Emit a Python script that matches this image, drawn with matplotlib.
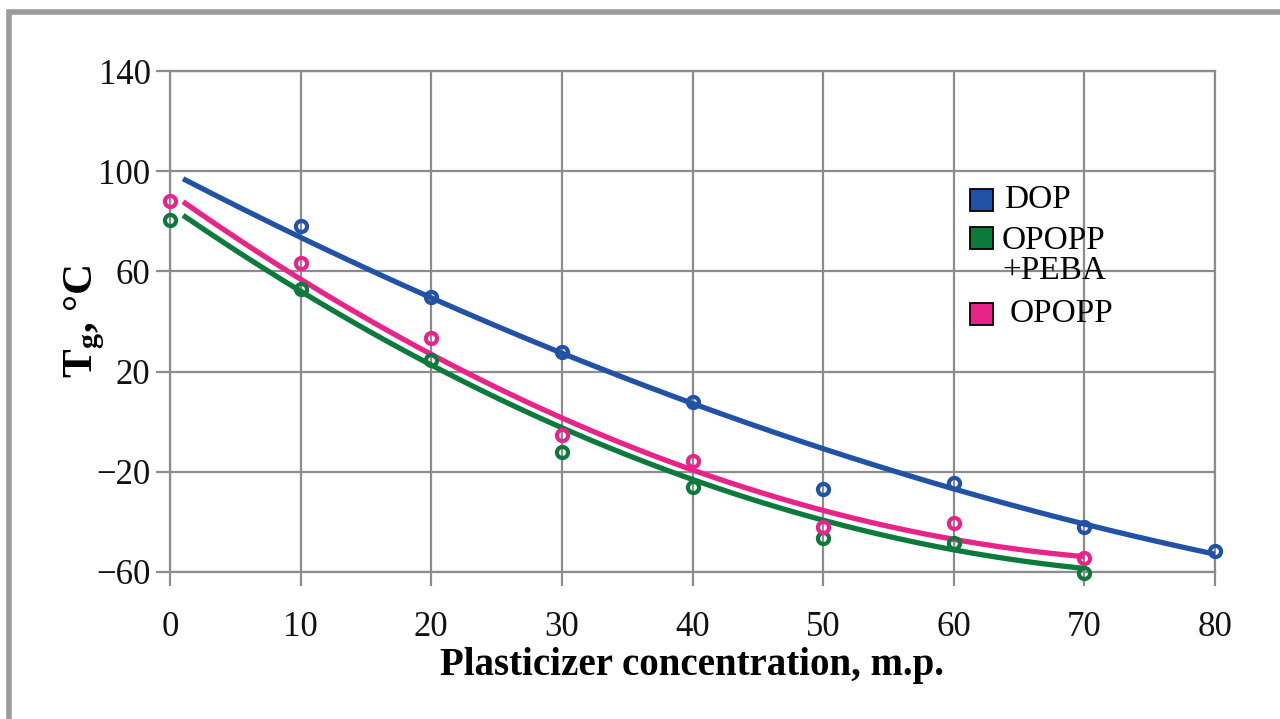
import numpy as np
import matplotlib.pyplot as plt
from matplotlib.patches import Rectangle

plt.rcParams['font.family'] = ['Liberation Serif', 'DejaVu Serif']
plt.rcParams['mathtext.fontset'] = 'custom'
plt.rcParams['mathtext.rm'] = 'Liberation Serif'

x_dop = [10, 20, 30, 40, 50, 60, 70, 80]
y_dop = [78, 49.6, 28, 8, -27, -24.5, -42, -51.5]
x_peba = [0, 10, 20, 30, 40, 50, 60, 70]
y_peba = [80.5, 53, 24.5, -12, -26, -46.5, -48.5, -60.5]
x_opopp = [0, 10, 20, 30, 40, 50, 60, 70]
y_opopp = [88, 63.5, 33.5, -5.5, -15.5, -42, -40.5, -54.5]

# trend lines
tx_dop = [1, 10, 20, 30, 40, 50, 60, 70, 80]
ty_dop = [95, 75.6, 50, 28, 8, -13.2, -26.4, -42, -51.6]
tx_peba = [1, 10, 20, 30, 40, 50, 60, 70]
ty_peba = [80, 55, 25.2, -4.4, -26, -39.2, -48.4, -59.6]
tx_opopp = [1, 10, 20, 30, 40, 50, 60, 70]
ty_opopp = [85.6, 59, 30.8, -1.2, -22.4, -35.2, -44, -55]

c_dop = '#2152a6'
c_peba = '#0b7a3b'
c_opopp = '#e8248b'

fig = plt.figure(figsize=(12.8, 7.19), dpi=100)
# grey frame round the picture
fig.patches.append(Rectangle((9/1280, -0.1), 1.2, 1 - 12/719 + 0.1, transform=fig.transFigure,
                             fill=False, edgecolor='#9a9a9a', linewidth=4))
ax = fig.add_axes([170/1280, 1 - 572/719, 1045/1280, 501/719])

series = [(x_dop, y_dop, tx_dop, ty_dop, c_dop),
          (x_peba, y_peba, tx_peba, ty_peba, c_peba),
          (x_opopp, y_opopp, tx_opopp, ty_opopp, c_opopp)]
for xs, ys, tx, ty, c in series:
    fn = np.poly1d(np.polyfit(tx, ty, deg=2))
    xx = np.linspace(tx[0], tx[-1], 200)
    ax.plot(xx, fn(xx), color=c, linewidth=3.8, solid_capstyle='butt', zorder=3)
    ax.plot(xs, ys, 'o', markerfacecolor='none', markeredgecolor=c, markersize=8,
            markeredgewidth=3, zorder=4, clip_on=False)

ax.set_xlim(0, 80)
ax.set_ylim(-60, 140)
ax.set_xticks(np.arange(0, 81, 10))
ax.set_yticks(np.arange(-60, 141, 40))
ax.grid(True, color='#8c8c8c', linewidth=1.6)
ax.set_axisbelow(True)
for s in ax.spines.values():
    s.set_color('#8c8c8c')
    s.set_linewidth(1.6)
ax.tick_params(axis='both', colors='#8c8c8c', width=1.6, length=10, labelcolor='#111111',
               labelsize=25)
ax.tick_params(axis='x', pad=18)
ax.tick_params(axis='y', pad=4)

ax.set_xlabel('Plasticizer concentration, m.p.', fontsize=28, fontweight='bold', labelpad=2)
ax.set_ylabel(r'T$_{\mathregular{g}}$, °C', fontsize=31, fontweight='bold', labelpad=-8)

# legend drawn by hand, squares line up with the first text line
legend_items = [(c_dop, 200, 'DOP', 200, 1004),
                (c_peba, 238, 'OPOPP\n+PEBA', 256, 1002),
                (c_opopp, 314, 'OPOPP', 314, 1010)]
for c, sy, label, ty, tx in legend_items:
    fig.patches.append(Rectangle((970/1280, 1 - (sy + 11)/719), 23/1280, 22/719,
                                 transform=fig.transFigure, facecolor=c,
                                 edgecolor='black', linewidth=1.3))
    fig.text(tx/1280, 1 - ty/719, label, fontsize=24, va='center', ha='left',
             linespacing=1.0)

plt.savefig('out.png', dpi=100)
